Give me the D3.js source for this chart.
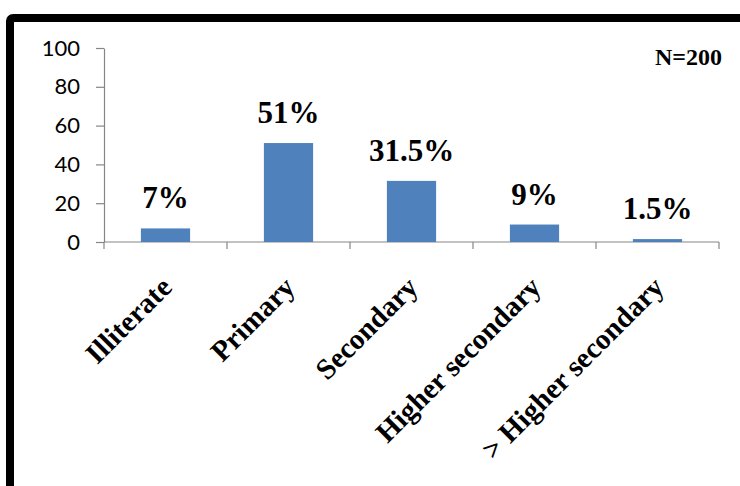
<!DOCTYPE html>
<html>
<head>
<meta charset="utf-8">
<script src="https://cdn.jsdelivr.net/npm/d3@7"></script>
<style>
  html, body { margin: 0; padding: 0; background: #fff; }
  svg { display: block; }
</style>
</head>
<body>
<svg id="chart" width="740" height="486"></svg>
<script>
const categories = ["Illiterate", "Primary", "Secondary", "Higher secondary", "> Higher secondary"];
const values = [7, 51, 31.5, 9, 1.5];
const valueLabels = ["7%", "51%", "31.5%", "9%", "1.5%"];
const yTicks = [0, 20, 40, 60, 80, 100];
const note = "N=200";

const svg = d3.select("#chart");

// frame
svg.append("rect")
  .attr("x", 10).attr("y", 18)
  .attr("width", 800).attr("height", 600)
  .attr("rx", 3)
  .attr("fill", "#fff")
  .attr("stroke", "#000")
  .attr("stroke-width", 8);

const plotLeft = 104, plotRight = 719, plotTop = 48, plotBottom = 242;

const x = d3.scaleBand().domain(categories).range([plotLeft, plotRight]).padding(0);
const y = d3.scaleLinear().domain([0, 100]).range([plotBottom, plotTop]);

const axisColor = "#868686";

// y axis
const yAxis = svg.append("g")
  .attr("transform", `translate(${plotLeft},0)`)
  .call(d3.axisLeft(y).tickValues(yTicks).tickSize(8).tickPadding(16).tickSizeOuter(0));
yAxis.select(".domain").attr("stroke", axisColor).attr("stroke-width", 1.2);
yAxis.selectAll(".tick line").attr("stroke", axisColor).attr("stroke-width", 1.2);
yAxis.selectAll(".tick text")
  .attr("fill", "#000")
  .style("font-family", "Lato, 'Open Sans', sans-serif")
  .style("font-size", "22px");

// x axis line and ticks at band boundaries
const xAxisG = svg.append("g");
xAxisG.append("line")
  .attr("x1", plotLeft).attr("x2", plotRight)
  .attr("y1", plotBottom).attr("y2", plotBottom)
  .attr("stroke", axisColor).attr("stroke-width", 1.2);
const boundaries = categories.map(c => x(c)).concat([x(categories[categories.length - 1]) + x.bandwidth()]);
xAxisG.selectAll("line.tk").data(boundaries).enter().append("line")
  .attr("class", "tk")
  .attr("x1", d => d).attr("x2", d => d)
  .attr("y1", plotBottom).attr("y2", plotBottom + 7)
  .attr("stroke", axisColor).attr("stroke-width", 1.2);

// bars
const barW = x.bandwidth() * 0.4;
svg.selectAll("rect.bar").data(values).enter().append("rect")
  .attr("class", "bar")
  .attr("x", (d, i) => x(categories[i]) + x.bandwidth() / 2 - barW / 2)
  .attr("y", d => y(d))
  .attr("width", barW)
  .attr("height", d => y(0) - y(d))
  .attr("fill", "#4F81BD");

// value labels
svg.selectAll("text.val").data(values).enter().append("text")
  .attr("class", "val")
  .attr("x", (d, i) => x(categories[i]) + x.bandwidth() / 2)
  .attr("y", d => y(d) - 20)
  .attr("text-anchor", "middle")
  .style("font-family", "'Liberation Serif', 'Times New Roman', serif")
  .style("font-weight", "bold")
  .style("font-size", "31px")
  .attr("fill", "#000")
  .text((d, i) => valueLabels[i]);

// category labels
svg.selectAll("text.cat").data(categories).enter().append("text")
  .attr("class", "cat")
  .attr("transform", d => `translate(${x(d) + x.bandwidth() / 2 + 8},${289})rotate(-45)`)
  .attr("text-anchor", "end")
  .style("font-family", "'Liberation Serif', 'Times New Roman', serif")
  .style("font-weight", "bold")
  .style("font-size", "29px")
  .attr("fill", "#000")
  .text(d => d);

// N note
svg.append("text")
  .attr("x", 722).attr("y", 65)
  .attr("text-anchor", "end")
  .style("font-family", "'Liberation Serif', 'Times New Roman', serif")
  .style("font-weight", "bold")
  .style("font-size", "24px")
  .attr("fill", "#000")
  .text(note);
</script>
</body>
</html>
